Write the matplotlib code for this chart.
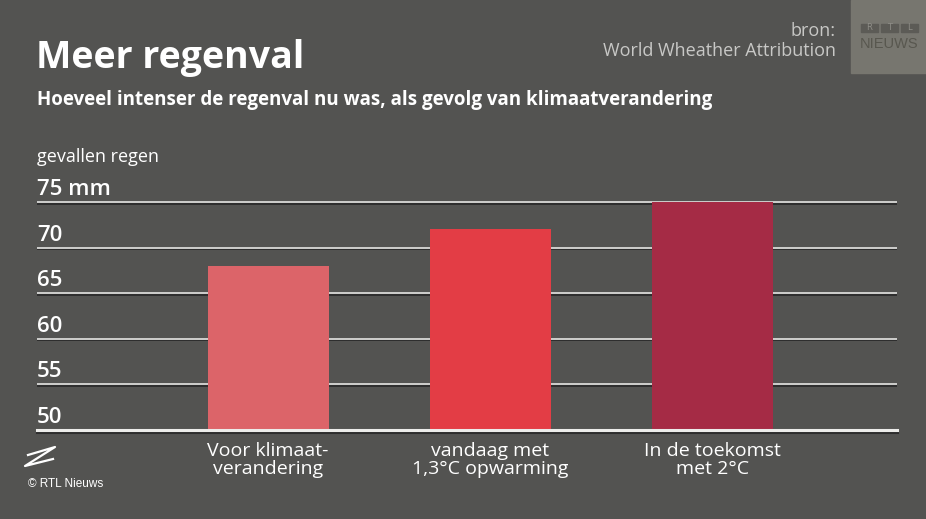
import matplotlib
matplotlib.use("Agg")
import matplotlib.pyplot as plt
import matplotlib.patheffects as pe
from matplotlib.patches import Rectangle
from matplotlib.lines import Line2D

# data
categories = ["Voor klimaat-\nverandering", "vandaag met\n1,3°C opwarming", "In de toekomst\nmet 2°C"]
rain_mm = [68, 72, 75]
bar_colors = ["#dc6469", "#e33d45", "#a52b45"]
tick_values = [50, 55, 60, 65, 70, 75]
tick_labels = ["50", "55", "60", "65", "70", "75 mm"]

BG = "#535351"
W, H = 926, 519
plt.rcParams["font.family"] = ["Open Sans", "DejaVu Sans"]


def fx(px):
    return px / W


def fy(py):
    return 1 - py / H


fig = plt.figure(figsize=(W / 100, H / 100), dpi=100, facecolor=BG)

# axes: x from 37 to 897 px, y=50 at 430 px, 9.12 px per mm
ymin, ymax = 50, 76
ax_bottom, ax_top = 430, 430 - (ymax - ymin) * 9.12
ax = fig.add_axes([fx(37), fy(430), fx(897 - 37), (ax_bottom - ax_top) / H])
ax.set_facecolor(BG)
ax.set_xlim(-1.04, 2.83)
ax.set_ylim(ymin, ymax)
for s in ax.spines.values():
    s.set_visible(False)

shadow = [pe.SimpleLineShadow(offset=(0, -1.2), shadow_color="#1e1e1e", alpha=0.7), pe.Normal()]
for v in tick_values[1:]:
    ax.axhline(v, color="#cfcfcd", lw=1.4, zorder=1, path_effects=shadow)

ax.bar(range(len(rain_mm)), [r - ymin for r in rain_mm], bottom=ymin,
       width=0.545, color=bar_colors, zorder=2)
ax.axhline(ymin, color="#ececea", lw=2.2, zorder=3, clip_on=False,
           path_effects=shadow)

ax.set_yticks([])
ax.set_xticks(range(len(categories)))
ax.set_xticklabels(categories, fontsize=14, color="white", linespacing=1.0)
ax.tick_params(axis="x", length=0, pad=9)

for v, lab in zip(tick_values, tick_labels):
    ax.annotate(lab, xy=(0, v), xycoords=ax.get_yaxis_transform(),
                xytext=(0, 1.5), textcoords="offset points",
                ha="left", va="bottom", fontsize=16, fontweight="semibold",
                color="white")

# titles
fig.text(fx(36), fy(68), "Meer regenval", fontsize=27, fontweight="bold",
         color="white", va="baseline")
fig.text(fx(37), fy(105), "Hoeveel intenser de regenval nu was, als gevolg van klimaatverandering",
         fontsize=13.5, fontweight="bold", color="white", va="baseline")
fig.text(fx(37), fy(162), "gevallen regen", fontsize=13, color="white", va="baseline")

# source
fig.text(fx(836), fy(36), "bron:", fontsize=13, color="#c8c8c6", ha="right", va="baseline")
fig.text(fx(836), fy(56), "World Wheather Attribution", fontsize=13, color="#c8c8c6",
         ha="right", va="baseline")

# RTL logo box
fig.add_artist(Rectangle((fx(851), fy(73)), fx(926 - 851), 73 / H,
                         transform=fig.transFigure, color="#77766f", zorder=0))
for i, letter in enumerate("RTL"):
    x0 = 861 + i * 20
    fig.add_artist(Rectangle((fx(x0), fy(32)), fx(17), 8 / H,
                             transform=fig.transFigure, color="#5c5b56"))
    fig.text(fx(x0 + 8.5), fy(28), letter, fontsize=6, color="#8f8e88",
             ha="center", va="center", family="DejaVu Sans")
fig.text(fx(889), fy(48), "NIEUWS", fontsize=10.5, color="#58574f",
         ha="center", va="baseline", family=["Liberation Sans", "DejaVu Sans"])

# bottom-left logo
zx = [28, 55, 25, 53]
zy = [455, 447, 466, 459]
fig.add_artist(Line2D([fx(x) for x in zx], [fy(y) for y in zy],
                      transform=fig.transFigure, color="white", lw=1.6))
fig.text(fx(28), fy(487), "© RTL Nieuws", fontsize=8.5, color="white",
         va="baseline", family=["Liberation Sans", "DejaVu Sans"])

fig.savefig("out.png", dpi=100, facecolor=BG)
